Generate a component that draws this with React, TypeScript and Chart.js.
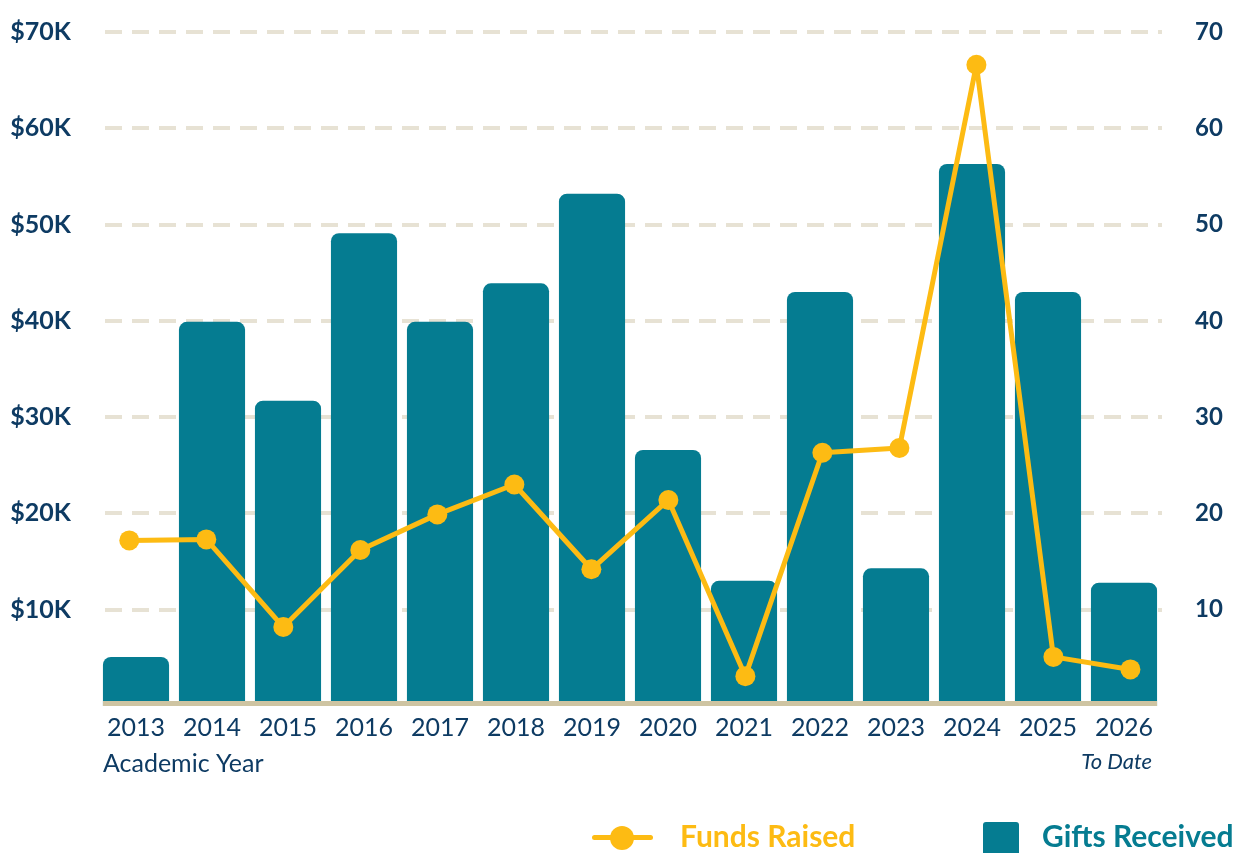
import React, { useEffect, useRef } from 'react';
import { Chart, registerables } from 'chart.js';

Chart.register(...registerables);

// ---- Data ----
const years = ['2013', '2014', '2015', '2016', '2017', '2018', '2019', '2020', '2021', '2022', '2023', '2024', '2025', '2026'];
// Funds raised, in thousands of dollars (left axis)
const fundsRaisedK = [17.2, 17.3, 8.2, 16.2, 19.9, 23.0, 14.2, 21.4, 3.1, 26.3, 26.8, 66.6, 5.1, 3.8];
// Number of gifts received (right axis)
const giftsReceived = [5.1, 39.9, 31.7, 49.1, 39.9, 43.9, 53.2, 26.6, 13.0, 43.0, 14.3, 56.3, 43.0, 12.8];
const leftTickValues = [10, 20, 30, 40, 50, 60, 70];
const rightTickValues = [10, 20, 30, 40, 50, 60, 70];
const xAxisTitle = 'Academic Year';
const lastYearNote = 'To Date';
const fundsLabel = 'Funds Raised';
const giftsLabel = 'Gifts Received';

// ---- Styles ----
const NAVY = '#0e3b63';
const TEAL = '#057c91';
const GOLD = '#fdbb13';
const GRID = '#e7e2d4';
const BASE = '#cec4a2';
const FONT = 'Lato, "Open Sans", sans-serif';

const overlayPlugin = {
  id: 'overlayText',
  afterDatasetsDraw(chart: any) {
    const meta = chart.getDatasetMeta(1);
    const first = meta.data[0];
    const last = meta.data[meta.data.length - 1];
    const left = first.x - first.width / 2;
    const right = last.x + last.width / 2;
    const y0 = chart.scales.yGifts.getPixelForValue(0);
    const ctx = chart.ctx;
    ctx.save();
    ctx.fillStyle = BASE;
    ctx.fillRect(left, y0 - 5, right - left, 5);
    ctx.restore();
  },
  afterDraw(chart: any) {
    const meta = chart.getDatasetMeta(1);
    const first = meta.data[0];
    const last = meta.data[meta.data.length - 1];
    const left = first.x - first.width / 2;
    const right = last.x + last.width / 2;
    const bottom = chart.chartArea.bottom;
    const ctx = chart.ctx;
    ctx.save();
    ctx.fillStyle = NAVY;
    ctx.textBaseline = 'alphabetic';
    ctx.font = `400 25px ${FONT}`;
    ctx.textAlign = 'left';
    ctx.fillText(xAxisTitle, left, bottom + 66);
    ctx.font = `italic 400 22px ${FONT}`;
    ctx.textAlign = 'right';
    ctx.fillText(lastYearNote, right - 5, bottom + 63);
    ctx.restore();
  },
};

const fixVertical = (width: number) => (s: any) => {
  s.width = width;
  s.paddingTop = 12;
  s.paddingBottom = 0;
};

export default function App() {
  const canvasRef = useRef<HTMLCanvasElement | null>(null);

  useEffect(() => {
    if (!canvasRef.current) return;
    const chart = new Chart(canvasRef.current, {
      data: {
        labels: years,
        datasets: [
          {
            type: 'line',
            label: fundsLabel,
            data: fundsRaisedK.map((v, i) => ({ x: i, y: v })),
            xAxisID: 'xLine',
            yAxisID: 'yFunds',
            borderColor: GOLD,
            backgroundColor: GOLD,
            borderWidth: 5,
            borderJoinStyle: 'round',
            borderCapStyle: 'round',
            pointRadius: 10,
            pointHoverRadius: 10,
            pointBorderWidth: 0,
            pointBackgroundColor: GOLD,
            tension: 0,
            order: 0,
          },
          {
            type: 'bar',
            label: giftsLabel,
            data: giftsReceived,
            xAxisID: 'x',
            yAxisID: 'yGifts',
            backgroundColor: TEAL,
            borderRadius: 8,
            barPercentage: 0.87,
            categoryPercentage: 1,
            grouped: false,
            order: 1,
          },
        ],
      } as any,
      options: {
        animation: false,
        responsive: false,
        maintainAspectRatio: false,
        layout: { padding: { top: 32, left: 0, right: 0, bottom: 0 } },
        plugins: {
          legend: { display: false },
          tooltip: { enabled: false },
          title: { display: false },
        },
        scales: {
          x: {
            type: 'category',
            offset: true,
            grid: { display: false, drawTicks: false },
            border: { display: false },
            ticks: {
              color: NAVY,
              font: { family: FONT, size: 25, weight: 400 },
              padding: 7,
              maxRotation: 0,
              autoSkip: false,
            },
            afterFit: (s: any) => {
              s.height = 147;
            },
          },
          xLine: {
            type: 'linear',
            position: 'bottom',
            display: false,
            min: -0.4065,
            max: 13.41,
          },
          yFunds: {
            type: 'linear',
            position: 'left',
            min: 0,
            max: 70,
            afterBuildTicks: (s: any) => {
              s.ticks = leftTickValues.map((v) => ({ value: v }));
            },
            ticks: {
              color: NAVY,
              font: { family: FONT, size: 25, weight: 700 },
              padding: 27,
              callback: (v: any) => `$${v}K`,
            },
            grid: { color: GRID, lineWidth: 4, drawTicks: false },
            border: { display: false, dash: [17, 10], dashOffset: 20 },
            afterFit: fixVertical(98),
          },
          yGifts: {
            type: 'linear',
            position: 'right',
            min: 0,
            max: 70,
            afterBuildTicks: (s: any) => {
              s.ticks = rightTickValues.map((v) => ({ value: v }));
            },
            ticks: {
              color: NAVY,
              font: { family: FONT, size: 24, weight: 700 },
              padding: 33,
              callback: (v: any) => `${v}`,
            },
            grid: { display: false, drawTicks: false },
            border: { display: false },
            afterFit: fixVertical(81),
          },
        },
      } as any,
      plugins: [overlayPlugin],
    });
    return () => chart.destroy();
  }, []);

  const legendText: React.CSSProperties = {
    position: 'absolute',
    top: 820,
    fontFamily: FONT,
    fontWeight: 700,
    fontSize: 30,
    lineHeight: '30px',
    whiteSpace: 'nowrap',
  };

  return (
    <div style={{ position: 'fixed', left: 0, top: 0, width: 1243, height: 853, overflow: 'hidden', background: '#fff' }}>
      <canvas ref={canvasRef} width={1243} height={853} style={{ display: 'block' }} />
      <div style={{ position: 'absolute', left: 592, top: 835, width: 61, height: 5, background: GOLD, borderRadius: 2.5 }} />
      <div style={{ position: 'absolute', left: 610, top: 825.5, width: 24, height: 24, background: GOLD, borderRadius: '50%' }} />
      <span style={{ ...legendText, left: 680, color: GOLD }}>{fundsLabel}</span>
      <div style={{ position: 'absolute', left: 983, top: 822, width: 36, height: 36, background: TEAL, borderRadius: 3 }} />
      <span style={{ ...legendText, left: 1042, color: TEAL }}>{giftsLabel}</span>
    </div>
  );
}
